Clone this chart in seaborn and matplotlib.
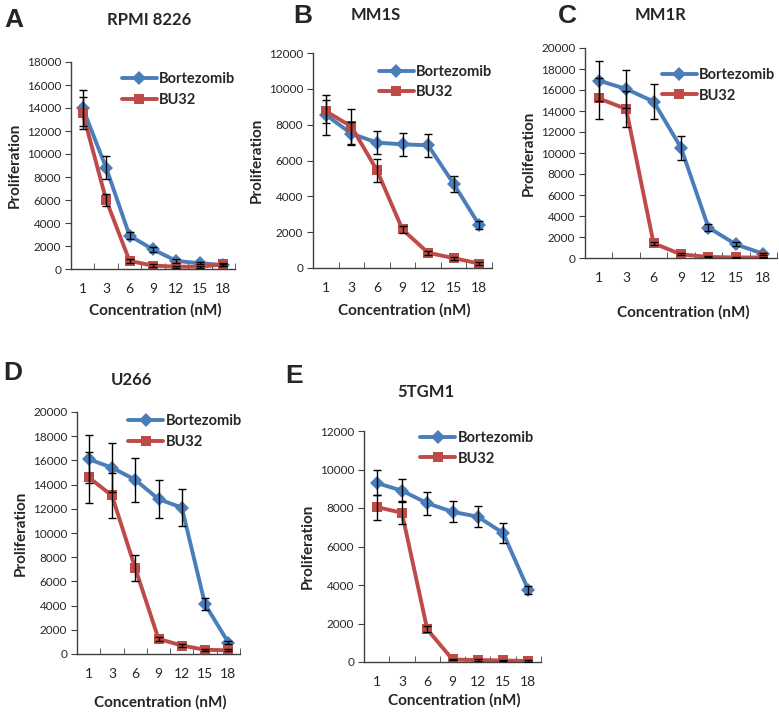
import numpy as np
import pandas as pd
import matplotlib
matplotlib.use('Agg')
import matplotlib.pyplot as plt
import seaborn as sns

# Concentrations (nM) shown as categories
concentrations = ['1', '3', '6', '9', '12', '15', '18']
drugs = ['Bortezomib', 'BU32']

# Panel titles / letters
panel_letters = ['A', 'B', 'C', 'D', 'E']
cell_lines = ['RPMI 8226', 'MM1S', 'MM1R', 'U266', '5TGM1']
y_max = [18000, 12000, 20000, 20000, 12000]

# Proliferation means
bortezomib_mean = [
    [14000, 8800, 2900, 1700, 700, 500, 350],
    [8550, 7500, 7000, 6900, 6850, 4700, 2400],
    [16900, 16100, 14900, 10500, 2900, 1300, 400],
    [16100, 15400, 14400, 12800, 12100, 4100, 950],
    [9300, 8900, 8250, 7800, 7550, 6700, 3750],
]
bu32_mean = [
    [13600, 6000, 700, 300, 200, 200, 400],
    [8750, 7900, 5450, 2150, 850, 550, 250],
    [15200, 14200, 1400, 350, 100, 50, 50],
    [14600, 13100, 7100, 1250, 700, 350, 300],
    [8050, 7750, 1700, 130, 100, 80, 50],
]
# Error bars (+/-)
bortezomib_err = [
    [1600, 1000, 300, 250, 150, 100, 100],
    [1100, 650, 650, 650, 650, 450, 200],
    [1900, 1850, 1700, 1150, 300, 200, 100],
    [2000, 2000, 1800, 1600, 1500, 500, 150],
    [650, 600, 600, 550, 550, 500, 200],
]
bu32_err = [
    [1400, 550, 150, 100, 80, 80, 100],
    [650, 1000, 650, 200, 100, 80, 80],
    [1950, 1750, 150, 80, 50, 30, 30],
    [2100, 1900, 1050, 150, 100, 80, 80],
    [650, 600, 150, 50, 30, 30, 30],
]

colors = {'Bortezomib': '#4a7ebb', 'BU32': '#be4b48'}
markers = {'Bortezomib': 'D', 'BU32': 's'}

W, H = 779, 712
# axes boxes in pixels: left, right, top, bottom
boxes = [
    (71, 235, 62, 269),
    (313, 492, 53, 268),
    (585, 777, 48, 258),
    (77, 240, 412, 654),
    (364, 541, 431, 662),
]
# legend anchor (upper right) in axes fraction
legend_anchor = [(1.0, 0.95), (1.0, 0.945), (0.99, 0.905), (1.01, 0.99), (0.96, 1.0)]
title_pos = [(149, 20), (376, 15), (660, 15), (131, 380), (426, 392)]
letter_pos = [(14, 20), (303, 16), (567, 16), (13, 373), (294, 376)]
xlabel_y = [310, 310, 312, 702, 700]

sns.set_style('ticks')
plt.rcParams['font.family'] = ['Lato', 'DejaVu Sans']

fig = plt.figure(figsize=(W / 100, H / 100), dpi=100)

for i in range(5):
    l, r, t, b = boxes[i]
    ax = fig.add_axes([l / W, 1 - b / H, (r - l) / W, (b - t) / H])

    df = pd.DataFrame({
        'pos': list(range(7)) * 2,
        'value': bortezomib_mean[i] + bu32_mean[i],
        'err': bortezomib_err[i] + bu32_err[i],
        'drug': ['Bortezomib'] * 7 + ['BU32'] * 7,
    })
    sns.lineplot(data=df, x='pos', y='value', hue='drug', style='drug',
                 hue_order=drugs, style_order=drugs, palette=colors,
                 markers=markers, dashes=False, linewidth=2.8,
                 markersize=7.5, markeredgewidth=0, ax=ax)
    for d in drugs:
        sub = df[df['drug'] == d]
        ax.errorbar(sub['pos'], sub['value'], yerr=sub['err'], fmt='none',
                    ecolor='black', elinewidth=1, capsize=3, capthick=1, zorder=5)

    ax.set_xlim(-0.5, 6.5)
    ax.set_ylim(0, y_max[i])
    ax.set_yticks(np.arange(0, y_max[i] + 1, 2000))
    ax.set_xticks(range(7))
    ax.set_xticklabels(concentrations)
    ax.set_xticks(np.arange(-0.5, 7, 1), minor=True)
    ax.tick_params(axis='x', which='major', length=0, labelsize=10, pad=10)
    ax.tick_params(axis='x', which='minor', length=4, direction='in', color='#404040')
    ax.tick_params(axis='y', labelsize=8.5, length=4, color='#404040', pad=3)
    sns.despine(ax=ax)
    for s in ['left', 'bottom']:
        ax.spines[s].set_color('#404040')
        ax.spines[s].set_linewidth(1)

    ax.set_xlabel('')
    ax.set_ylabel('Proliferation', fontsize=11, fontweight='bold')
    fig.text(((l + r) / 2 + 2) / W, 1 - xlabel_y[i] / H, 'Concentration (nM)',
             ha='center', va='center', fontsize=11, fontweight='bold')

    leg = ax.legend(loc='upper right', bbox_to_anchor=legend_anchor[i], frameon=False,
                    handlelength=2.4, handletextpad=0.15, labelspacing=0.45,
                    borderaxespad=0, borderpad=0, prop={'weight': 'bold', 'size': 10.5})

    tx, ty = title_pos[i]
    fig.text(tx / W, 1 - ty / H, cell_lines[i], ha='center', va='center',
             fontsize=12, fontweight='bold')
    lx, ly = letter_pos[i]
    fig.text(lx / W, 1 - ly / H, panel_letters[i], ha='center', va='center',
             fontsize=19, fontweight='bold', family='Liberation Sans')

fig.savefig('out.png', dpi=100)
